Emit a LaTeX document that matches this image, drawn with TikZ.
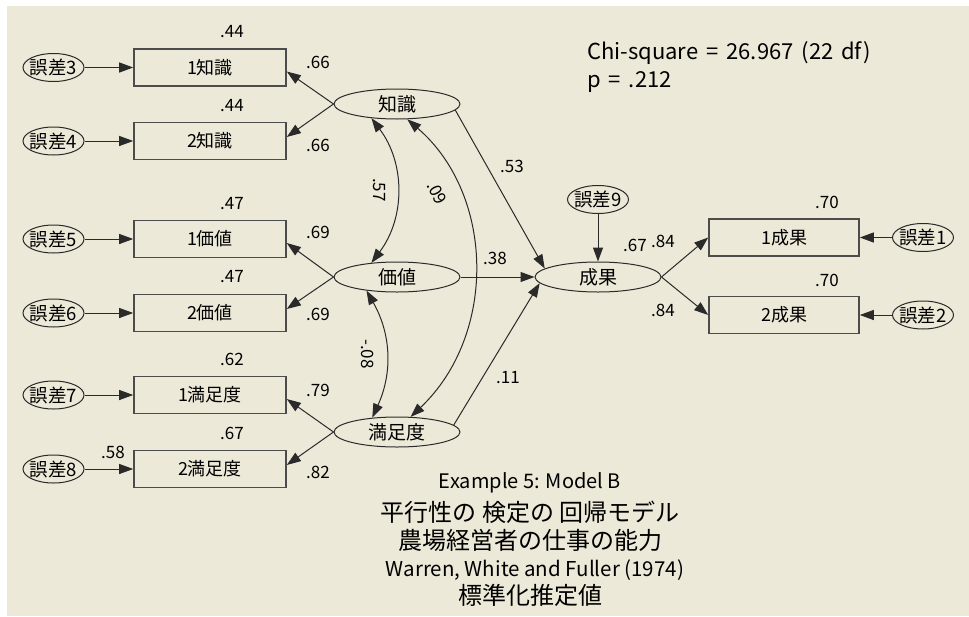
\documentclass[tikz,border=0pt]{standalone}
\usepackage{fontspec}
\setmainfont{Noto Sans CJK JP}
\usepackage{tikz}
\usetikzlibrary{arrows.meta,positioning,calc,shapes.geometric}
\definecolor{amosbg}{HTML}{ECE9D8}
\definecolor{amosline}{HTML}{2A2A2A}
\begin{document}
\begin{tikzpicture}[x=1pt,y=-1pt,
  obs/.style={draw=black!70,line width=1.6pt,minimum width=152pt,minimum height=37pt,
    inner sep=0pt,font=\fontsize{18}{18}\selectfont},
  lat/.style={ellipse,draw=amosline,line width=1pt,minimum width=126pt,minimum height=30pt,
    inner sep=0pt,font=\fontsize{19}{19}\selectfont},
  err/.style={ellipse,draw=amosline,line width=1pt,minimum width=61pt,minimum height=28pt,
    inner sep=-5pt,font=\fontsize{18.5}{18.5}\selectfont},
  num/.style={font=\fontsize{17}{17}\selectfont,inner sep=0pt},
  fit text/.style={font=\fontsize{22}{22}\selectfont,anchor=west,inner sep=0pt},
  pth/.style={-{Triangle[length=14pt,width=10pt]},line width=1pt,amosline},
  cov/.style={{Triangle[length=14pt,width=10pt]}-{Triangle[length=14pt,width=10pt]},
    line width=1pt,amosline}]
\useasboundingbox (0,0) rectangle (969,616);
\fill[white] (0,0) rectangle (969,616);
\fill[amosbg] (7,6) rectangle (969,616);
% Observed variables, left
\node[obs] (k1) at (210,67.5) {1知識};
\node[obs] (k2) at (210,141) {2知識};
\node[obs] (v1) at (210,239) {1価値};
\node[obs] (v2) at (210,313) {2価値};
\node[obs] (s1) at (210,395) {1満足度};
\node[obs] (s2) at (210,469) {2満足度};
% Error terms, left
\node[err] (e3) at (53.5,67.5) {誤差3};
\node[err] (e4) at (53.5,141) {誤差4};
\node[err] (e5) at (53.5,239) {誤差5};
\node[err] (e6) at (53.5,313) {誤差6};
\node[err] (e7) at (53.5,395) {誤差7};
\node[err] (e8) at (53.5,469) {誤差8};
\foreach \e/\b in {e3/k1,e4/k2,e5/v1,e6/v2,e7/s1,e8/s2}
  \draw[pth] (\e.east) -- (\b.west);
% Latent factors
\node[lat] (kn) at (397,104) {知識};
\node[lat] (val) at (397,277) {価値};
\node[lat] (sat) at (397,432) {満足度};
\draw[pth] (kn.west) -- (k1.-3);
\draw[pth] (kn.west) -- (k2.3);
\draw[pth] (val.west) -- (v1.-3);
\draw[pth] (val.west) -- (v2.3);
\draw[pth] (sat.west) -- (s1.-3);
\draw[pth] (sat.west) -- (s2.3);
% Correlations between factors
\draw[cov] (kn.209) to[bend left=37] (val.151);
\draw[cov] (val.204) to[bend left=27] (sat.150);
\draw[cov] (kn.-56) .. controls (495,195) and (497,335) .. (sat.48);
% Outcome
\node[lat] (out) at (598,277) {成果};
\node[err] (e9) at (598,199.5) {誤差9};
\draw[pth] (e9.south) -- (out.north);
\draw[pth] (kn.-6) -- (out.171);
\draw[pth] (val.east) -- (out.west);
\draw[pth] (sat.7) -- (out.186);
\node[obs,minimum width=150pt] (o1) at (784,237.5) {1成果};
\node[obs,minimum width=150pt] (o2) at (784,315) {2成果};
\node[err] (e1) at (923,237.5) {誤差1};
\node[err] (e2) at (923,315) {誤差2};
\draw[pth] (out.east) -- (o1.west);
\draw[pth] (out.east) -- (o2.west);
\draw[pth] (e1.west) -- (o1.east);
\draw[pth] (e2.west) -- (o2.east);
% Estimates
\node[num] (r1) at (232,32) {.44};
\node[num] (r2) at (232,106) {.44};
\node[num] (r3) at (232,204) {.47};
\node[num] (r4) at (232,277) {.47};
\node[num] (r5) at (232,359) {.62};
\node[num] (r6) at (232,433) {.67};
\node[num] (r7) at (113,452) {.58};
\node[num] (l1) at (318,62) {.66};
\node[num] (l2) at (318,145) {.66};
\node[num] (l3) at (318,232) {.69};
\node[num] (l4) at (318,314) {.69};
\node[num] (l5) at (318,390) {.79};
\node[num] (l6) at (318,472) {.82};
\node[num,rotate=-90] (c1) at (379,190) {.57};
\node[num,rotate=-62] (c2) at (437,193) {.09};
\node[num,rotate=-90] (c3) at (368,354) {-.08};
\node[num] (b1) at (512,166) {.53};
\node[num] (b2) at (495,258) {.38};
\node[num] (b3) at (508,378) {.11};
\node[num] (r8) at (635,245) {.67};
\node[num] (l7) at (663,241) {.84};
\node[num] (l8) at (663,310) {.84};
\node[num] (r9) at (827,202) {.70};
\node[num] (r10) at (827,280) {.70};
% Fit and title
\node[fit text] (chi) at (587,53) {\spaceskip=0.36em Chi-square = 26.967 (22 df)};
\node[fit text] (pv) at (587,82) {\spaceskip=0.36em p = .212};
\node[font=\fontsize{20}{20}\selectfont,inner sep=0pt] (t1) at (530,483) {Example 5: Model B};
\node[font=\fontsize{24}{24}\selectfont,inner sep=0pt] (t2) at (530,512) {平行性の 検定の 回帰モデル};
\node[font=\fontsize{24}{24}\selectfont,inner sep=0pt] (t3) at (530,540) {農場経営者の仕事の能力};
\node[font=\fontsize{20.5}{20.5}\selectfont,inner sep=0pt] (t4) at (535,570) {Warren, White and Fuller (1974)};
\node[font=\fontsize{24}{24}\selectfont,inner sep=0pt] (t5) at (530,595) {標準化推定値};
\end{tikzpicture}
\end{document}
